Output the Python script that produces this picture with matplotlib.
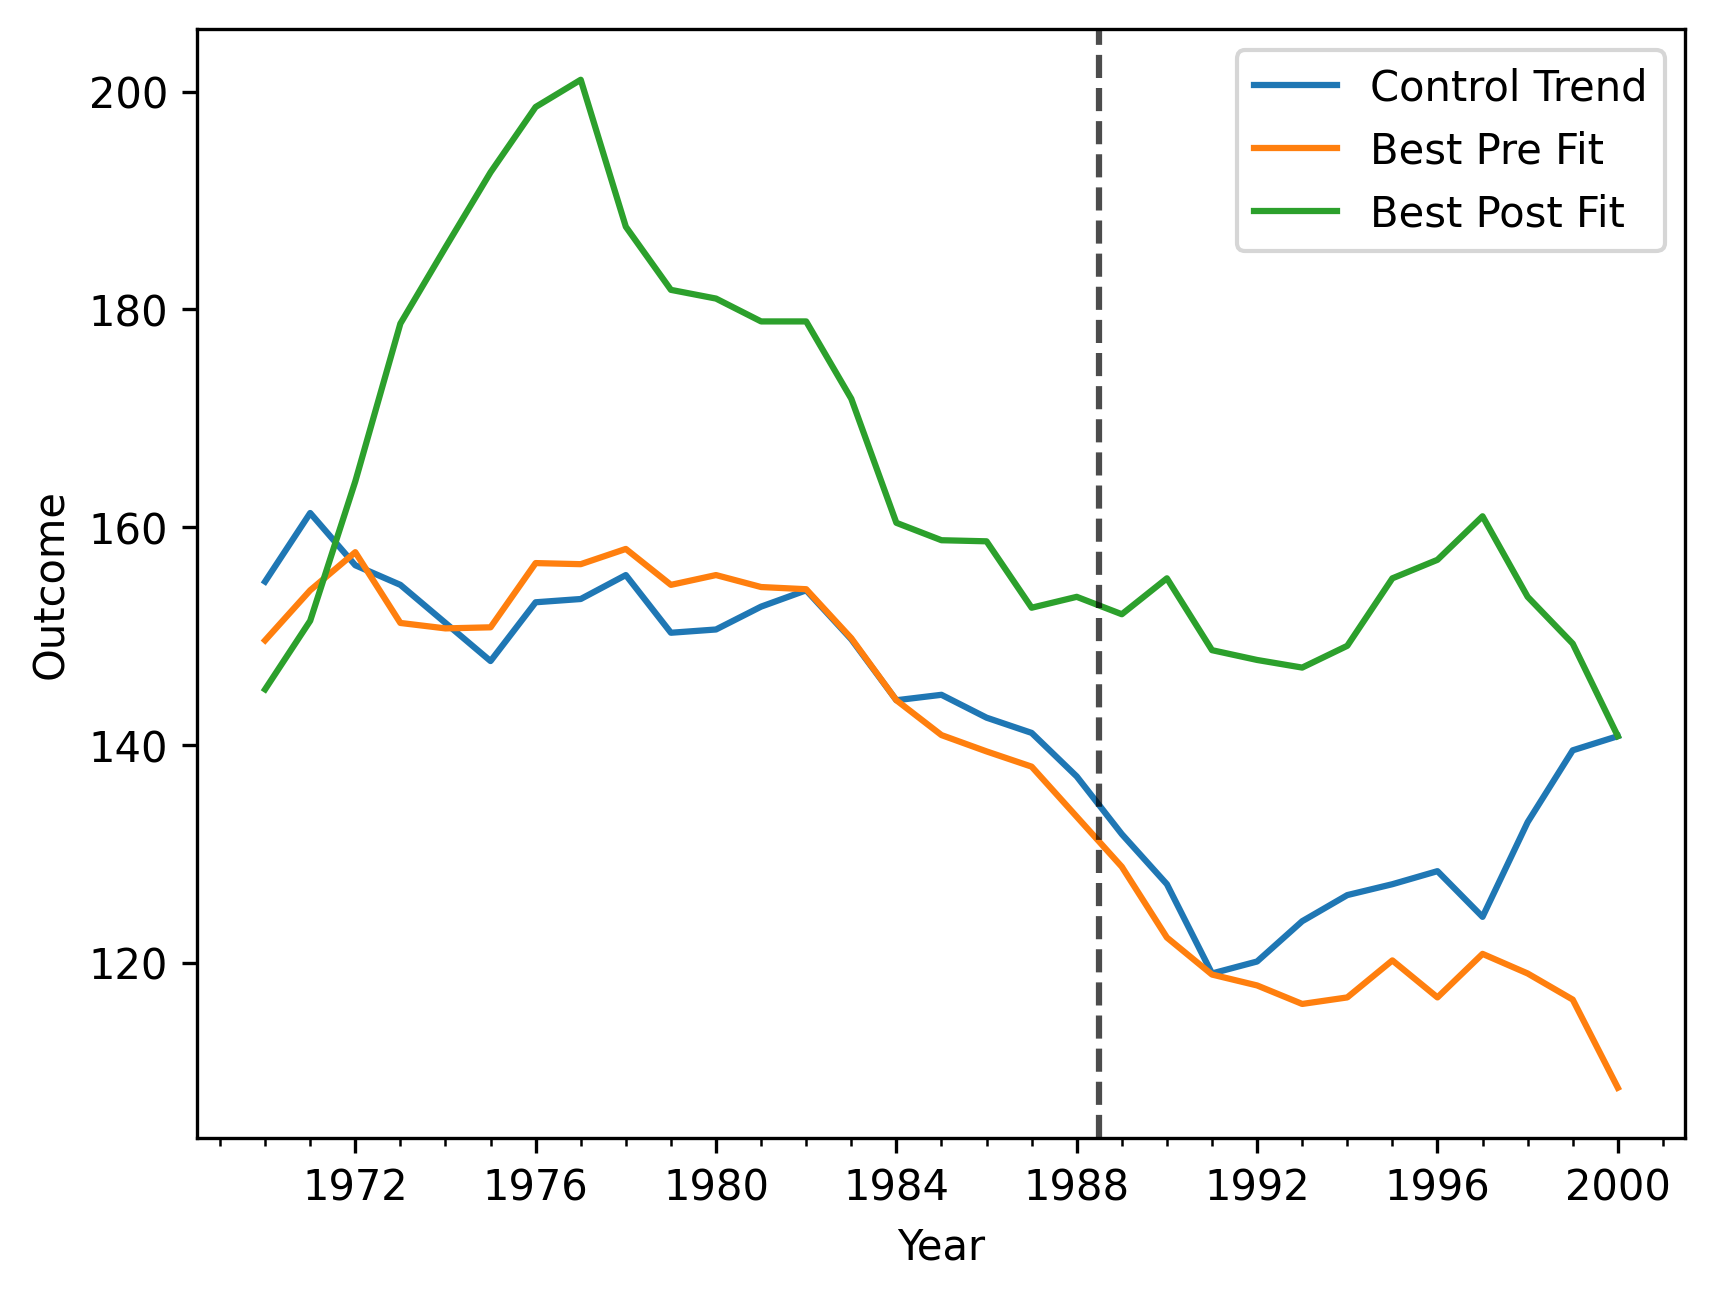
import matplotlib
matplotlib.use("Agg")
import matplotlib.pyplot as plt

years = list(range(1970, 2001))

control_trend = [155.0, 161.3, 156.5, 154.7, 151.2, 147.7, 153.1, 153.4, 155.6, 150.3,
                 150.6, 152.7, 154.2, 149.7, 144.1, 144.6, 142.5, 141.1, 137.1, 131.8,
                 127.2, 119.0, 120.1, 123.8, 126.2, 127.2, 128.4, 124.2, 132.9, 139.5,
                 140.8]

best_pre_fit = [149.6, 154.2, 157.7, 151.2, 150.7, 150.8, 156.7, 156.6, 158.0, 154.7,
                155.6, 154.5, 154.3, 149.8, 144.1, 140.9, 139.4, 138.0, 133.4, 128.8,
                122.3, 118.9, 117.9, 116.2, 116.8, 120.2, 116.8, 120.8, 119.0, 116.6,
                108.5]

best_post_fit = [145.1, 151.4, 164.2, 178.7, 185.7, 192.6, 198.6, 201.1, 187.6, 181.8,
                 181.0, 178.9, 178.9, 171.8, 160.4, 158.8, 158.7, 152.6, 153.6, 152.0,
                 155.3, 148.7, 147.8, 147.1, 149.1, 155.3, 157.0, 161.0, 153.6, 149.3,
                 140.8]

treatment_year = 1988.5

fig, ax = plt.subplots(figsize=(6.4, 4.8))
ax.plot(years, control_trend, label="Control Trend")
ax.plot(years, best_pre_fit, label="Best Pre Fit")
ax.plot(years, best_post_fit, label="Best Post Fit")
ax.axvline(treatment_year, linestyle="--", color="k", alpha=0.7)
ax.set_xticks(range(1972, 2001, 4))
ax.set_xticks(range(1969, 2002), minor=True)
ax.set_xlabel("Year")
ax.set_ylabel("Outcome")
ax.legend(loc="upper right")
fig.savefig("out.png", dpi=300, bbox_inches="tight")
